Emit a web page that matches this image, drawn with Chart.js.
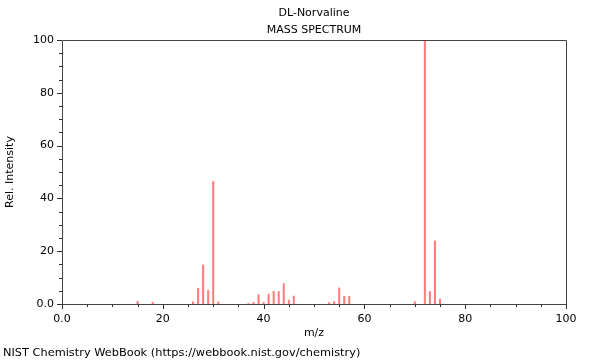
<!DOCTYPE html>
<html>
<head>
<meta charset="utf-8">
<script src="https://cdn.jsdelivr.net/npm/chart.js@4.4.1/dist/chart.umd.min.js"></script>
<style>
html,body{margin:0;padding:0;background:#fff;}
#wrap{position:relative;width:600px;height:360px;}
</style>
</head>
<body>
<div id="wrap"><canvas id="c" width="600" height="360"></canvas></div>
<script>
const titleLines = ["DL-Norvaline", "MASS SPECTRUM"];
const xTitle = "m/z";
const yTitle = "Rel. Intensity";
const footer = "NIST Chemistry WebBook (https://webbook.nist.gov/chemistry)";
const mz = [15, 18, 26, 27, 28, 29, 30, 31, 37, 38, 39, 40, 41, 42, 43, 44, 45, 46, 53, 54, 55, 56, 57, 70, 72, 73, 74, 75];
const intensity = [1.0, 0.7, 0.8, 5.9, 14.8, 5.1, 46.4, 0.8, 0.2, 0.6, 3.5, 0.6, 3.7, 4.8, 4.7, 7.7, 1.5, 3.0, 0.5, 0.9, 6.1, 2.9, 2.9, 0.9, 100, 4.7, 23.9, 1.9];
const xMajorTicks = [0, 20, 40, 60, 80, 100];
const yMajorTicks = [0, 20, 40, 60, 80, 100];
const minorStep = 5;

const FONT = "DejaVu Sans";
const fmt = v => v === 0 ? "0.0" : String(v);

const decor = {
  id: 'decor',
  afterDraw(chart) {
    const ctx = chart.ctx;
    const a = chart.chartArea;
    const xs = chart.scales.x, ys = chart.scales.y;
    ctx.save();
    ctx.strokeStyle = '#444';
    ctx.lineWidth = 1;
    ctx.beginPath();
    ctx.rect(Math.round(a.left) + 0.5, Math.round(a.top) + 0.5, Math.round(a.right - a.left), Math.round(a.bottom - a.top));
    ctx.stroke();
    ctx.strokeStyle = '#333';
    for (let v = xs.min; v <= xs.max; v += minorStep) {
      const px = Math.round(xs.getPixelForValue(v)) + 0.5;
      const len = xMajorTicks.includes(v) ? 5 : 3;
      ctx.beginPath();
      ctx.moveTo(px, a.bottom);
      ctx.lineTo(px, a.bottom + len);
      ctx.stroke();
    }
    for (let v = ys.min; v <= ys.max; v += minorStep) {
      const py = Math.round(ys.getPixelForValue(v)) + 0.5;
      const len = yMajorTicks.includes(v) ? 5 : 3;
      ctx.beginPath();
      ctx.moveTo(a.left, py);
      ctx.lineTo(a.left - len, py);
      ctx.stroke();
    }
    ctx.fillStyle = '#000';
    ctx.font = '11px "' + FONT + '"';
    ctx.textAlign = 'center';
    ctx.textBaseline = 'middle';
    const cx = (a.left + a.right) / 2;
    ctx.fillText(titleLines[0], cx, 13);
    ctx.fillText(titleLines[1], cx, 30);
    ctx.fillText(xTitle, cx, 333);
    ctx.save();
    ctx.translate(10, (a.top + a.bottom) / 2);
    ctx.rotate(-Math.PI / 2);
    ctx.fillText(yTitle, 0, 0);
    ctx.restore();
    ctx.font = '11.35px "' + FONT + '"';
    ctx.textAlign = 'left';
    ctx.fillText(footer, 3, 353);
    ctx.restore();
  }
};

new Chart(document.getElementById('c'), {
  type: 'bar',
  data: {
    datasets: [{
      data: mz.map((m, i) => ({x: m, y: intensity[i]})),
      backgroundColor: 'rgba(255,70,70,0.7)',
      barThickness: 1.4,
      borderWidth: 0
    }]
  },
  options: {
    responsive: false,
    animation: false,
    events: [],
    layout: {padding: {top: 40, right: 34, left: 0, bottom: 0}},
    plugins: {legend: {display: false}, tooltip: {enabled: false}, title: {display: false}},
    scales: {
      x: {
        type: 'linear',
        min: 0, max: 100,
        offset: false,
        grid: {display: false, drawTicks: false},
        border: {display: false},
        afterFit: s => { s.height = 56; },
        ticks: {
          stepSize: 20,
          autoSkip: false,
          maxRotation: 0,
          padding: 9,
          color: '#000',
          font: {family: FONT, size: 11},
          callback: v => xMajorTicks.includes(v) ? fmt(v) : ''
        }
      },
      y: {
        min: 0, max: 100,
        grid: {display: false, drawTicks: false},
        border: {display: false},
        afterFit: s => { s.width = 62; },
        ticks: {
          stepSize: 20,
          autoSkip: false,
          padding: 8,
          color: '#000',
          font: {family: FONT, size: 11},
          callback: v => yMajorTicks.includes(v) ? fmt(v) : ''
        }
      }
    }
  },
  plugins: [decor]
});
</script>
</body>
</html>
